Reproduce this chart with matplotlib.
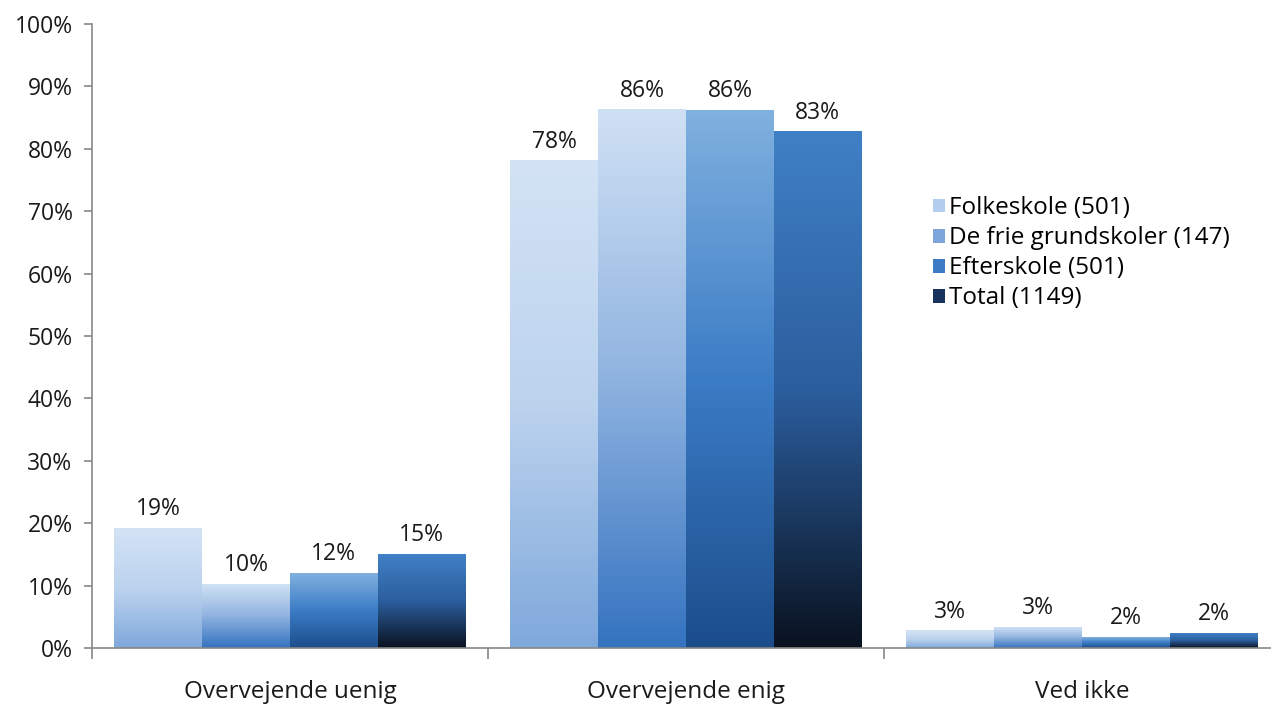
import numpy as np
import matplotlib
matplotlib.use("Agg")
import matplotlib.pyplot as plt
from matplotlib.colors import LinearSegmentedColormap
from matplotlib.patches import Patch

categories = ["Overvejende uenig", "Overvejende enig", "Ved ikke"]
series = ["Folkeskole (501)", "De frie grundskoler (147)", "Efterskole (501)", "Total (1149)"]
folkeskole = [19.2, 78.1, 2.8]
frie = [10.2, 86.3, 3.3]
efterskole = [12.0, 86.2, 1.7]
total = [15.0, 82.7, 2.4]
values = [folkeskole, frie, efterskole, total]
yticks = [0, 10, 20, 30, 40, 50, 60, 70, 80, 90, 100]

grads = [
    ["#d3e3f5", "#bcd3ee", "#7fa8db"],
    ["#d0e1f4", "#8fb3e0", "#3473c0"],
    ["#80b1df", "#3b7cc6", "#1b4d8b"],
    ["#4080c6", "#2b5e9e", "#0a1220"],
]
legend_cols = ["#b3cdee", "#7ea6da", "#3d7bc4", "#15335d"]

FS_NUM = 16.5
FS_TXT = 17.5
plt.rcParams['font.family'] = ['Open Sans', 'DejaVu Sans']
fig = plt.figure(figsize=(12.71, 7.05), dpi=100)
ax = fig.add_axes([92/1271, 1-648/705, (1280-92)/1271, (648-24)/705])

n = len(series)
bw = 0.887 / n
x = np.arange(len(categories))
for i, (vals, g) in enumerate(zip(values, grads)):
    cmap = LinearSegmentedColormap.from_list(f"g{i}", g[::-1])
    offs = x - 0.887/2 + bw*(i+0.5)
    bars = ax.bar(offs, vals, width=bw, color="none", edgecolor="none")
    for b, v in zip(bars, vals):
        x0, y0 = b.get_x(), b.get_y()
        w, h = b.get_width(), b.get_height()
        grad = np.linspace(0, 1, 256).reshape(-1, 1)
        ax.imshow(grad, extent=(x0, x0 + w, y0, y0 + h), origin="lower",
                  cmap=cmap, aspect="auto", zorder=2, interpolation="bilinear")
        ax.annotate(f"{v:.0f}%", (x0 + w/2, y0 + h), xytext=(0, 5),
                    textcoords="offset points", ha="center", va="bottom",
                    fontsize=FS_NUM, color="#1a1a1a")

ax.set_xlim(-0.5, len(categories) - 0.5)
ax.set_ylim(0, 100)
ax.set_yticks(yticks)
ax.set_yticklabels([f"{t}%" for t in yticks], fontsize=FS_NUM, color="#1a1a1a")
ax.set_xticks(np.arange(len(categories) + 1) - 0.5)
ax.set_xticklabels([])
ax.set_xticks(x, minor=True)
ax.set_xticklabels(categories, minor=True, fontsize=FS_TXT, color="#1a1a1a")
ax.tick_params(axis="x", which="minor", length=0, pad=23)
ax.tick_params(axis="x", which="major", length=8, color="#888888", width=1.2)
ax.tick_params(axis="y", length=6, color="#888888", width=1.2, pad=8)
for s in ["top", "right"]:
    ax.spines[s].set_visible(False)
for s in ["left", "bottom"]:
    ax.spines[s].set_color("#888888")
    ax.spines[s].set_linewidth(1.2)

handles = [Patch(facecolor=c, edgecolor="none") for c in legend_cols]
leg = fig.legend(handles, series, loc="upper left", bbox_to_anchor=(921/1271, 1-184/705),
                 frameon=False, fontsize=FS_TXT, handlelength=0.5, handleheight=0.5,
                 handletextpad=0.15, labelspacing=0.25, borderpad=0)

fig.savefig("out.png", dpi=100)
